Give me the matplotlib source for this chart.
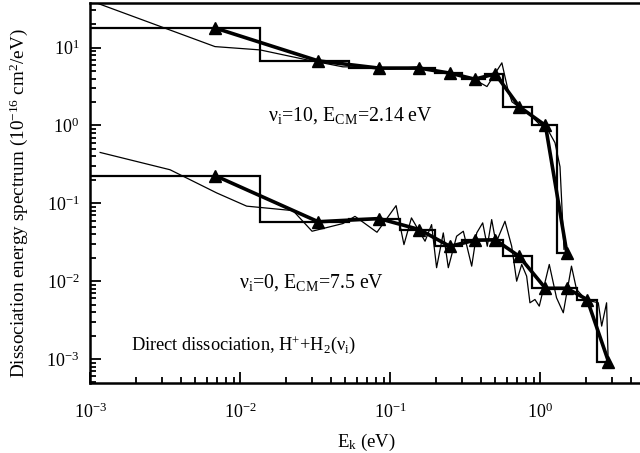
import matplotlib
matplotlib.use("Agg")
import matplotlib.pyplot as plt
from matplotlib.ticker import LogLocator, NullFormatter

plt.rcParams['font.family'] = ['Liberation Serif', 'DejaVu Serif']
plt.rcParams['mathtext.fontset'] = 'custom'
plt.rcParams['mathtext.rm'] = 'Liberation Serif'
plt.rcParams['mathtext.it'] = 'Liberation Serif:italic'

# --------------------------- Data ---------------------------- #
# coarse bins (eV), triangles sit at the bin centres
bin_centres = [0.0068, 0.033, 0.084, 0.156, 0.249, 0.365, 0.50, 0.72, 1.08, 1.50, 2.05, 2.84]

# vi=10, Ecm=2.14 eV
hi_edges = [1e-3, 0.0135, 0.053, 0.115, 0.197, 0.30, 0.43, 0.565, 0.873, 1.28, 1.55]
hi_heights = [17.8, 6.75, 5.45, 5.45, 4.7, 3.93, 4.6, 1.75, 1.0, 0.023]
hi_fine_x = [0.001, 0.00676, 0.0135, 0.0277, 0.0482, 0.0676, 0.0993, 0.157, 0.214, 0.29,
             0.366, 0.44, 0.497, 0.553, 0.607, 0.646, 0.73, 0.851, 0.993, 1.12, 1.25, 1.35, 1.435]
hi_fine_y = [40, 10.3, 9.34, 6.96, 5.66, 5.66, 5.33, 5.66, 4.88, 4.47,
             3.85, 3.16, 4.6, 6.37, 2.87, 2.01, 1.69, 1.37, 1.02, 0.88, 0.60, 0.295, 0.0257]

# vi=0, Ecm=7.5 eV
lo_edges = [1e-3, 0.0135, 0.053, 0.115, 0.197, 0.30, 0.43, 0.565, 0.873, 1.28, 1.74, 2.37, 2.95]
lo_heights = [0.226, 0.058, 0.0637, 0.046, 0.028, 0.0336, 0.034, 0.0209, 0.0081, 0.0081, 0.0058, 0.00093]
lo_fine_x = [0.00116, 0.00339, 0.00694, 0.011, 0.0224, 0.030, 0.0482, 0.058, 0.0813, 0.109,
             0.123, 0.138, 0.17, 0.188, 0.203, 0.225, 0.243, 0.276, 0.306, 0.348,
             0.376, 0.412, 0.442, 0.473, 0.505, 0.58, 0.643, 0.694, 0.75, 0.809,
             0.851, 0.919, 0.982, 1.145, 1.28, 1.42, 1.61, 1.74, 1.93, 2.19,
             2.43, 2.56, 2.76, 2.83]
lo_fine_y = [0.45, 0.27, 0.136, 0.092, 0.0806, 0.0438, 0.055, 0.068, 0.0425, 0.0934,
             0.0295, 0.065, 0.0326, 0.0533, 0.0149, 0.0417, 0.0149, 0.0378, 0.0438, 0.0156,
             0.0417, 0.0561, 0.0281, 0.0618, 0.031, 0.0588, 0.0281, 0.010, 0.0164, 0.0116,
             0.00528, 0.00582, 0.00478, 0.0164, 0.00612, 0.00393, 0.0156, 0.00783, 0.0063, 0.00554,
             0.00528, 0.00265, 0.00528, 0.00091]

# --------------------------- Plot ---------------------------- #
fig = plt.figure(figsize=(6.4, 4.53), dpi=100)
ax = fig.add_axes([0.1414, 0.1552, 0.8586, 0.8382])

for edges, heights in ((hi_edges, hi_heights), (lo_edges, lo_heights)):
    n = len(heights)
    ax.stairs(heights, edges, color='black', linewidth=1.6, baseline=None)
    ax.plot(bin_centres[:n], heights, color='black', linewidth=2.6,
            marker='^', markersize=8.5)

ax.plot(hi_fine_x, hi_fine_y, color='black', linewidth=0.9)
ax.plot(lo_fine_x, lo_fine_y, color='black', linewidth=0.9)

ax.set_xscale('log')
ax.set_yscale('log')
ax.set_xlim(1e-3, 4.61)
ax.set_ylim(4.97e-4, 37.4)

ax.xaxis.set_major_locator(LogLocator(base=10, numticks=10))
ax.yaxis.set_major_locator(LogLocator(base=10, numticks=10))
ax.xaxis.set_minor_locator(LogLocator(base=10, subs=range(2, 10), numticks=20))
ax.yaxis.set_minor_locator(LogLocator(base=10, subs=range(2, 10), numticks=20))
ax.xaxis.set_minor_formatter(NullFormatter())
ax.yaxis.set_minor_formatter(NullFormatter())

ax.tick_params(which='both', direction='in', top=False, right=False, labelsize=13, width=1.3)
ax.tick_params(which='major', length=8)
ax.tick_params(axis='x', which='major', pad=14)
ax.tick_params(axis='y', which='major', pad=8)
ax.tick_params(which='minor', length=4.5)
ax.spines['right'].set_visible(False)
for s in ('left', 'bottom', 'top'):
    ax.spines[s].set_linewidth(1.8)

ax.set_xlabel(r'E$_{\rm k}$ (eV)', fontsize=13.5)
ax.xaxis.set_label_coords(0.502, -0.13)
ax.set_ylabel(r'Dissociation energy spectrum (10$^{-16}$ cm$^{2}$/eV)', fontsize=13.8)
ax.yaxis.set_label_coords(-0.11, 0.474)

ax.text(0.0152, 1.35, r'ν$_{\rm i}$=10, E$_{\rm CM}$=2.14 eV', fontsize=14.3, va='center')
ax.text(0.0098, 0.0095, r'ν$_{\rm i}$=0, E$_{\rm CM}$=7.5 eV', fontsize=14.3, va='center')
ax.text(0.00186, 0.00152, r'Direct dissociation, H$^{+}$+H$_{2}$(ν$_{\rm i}$)', fontsize=13.2, va='center')

fig.savefig('out.png', dpi=100)
